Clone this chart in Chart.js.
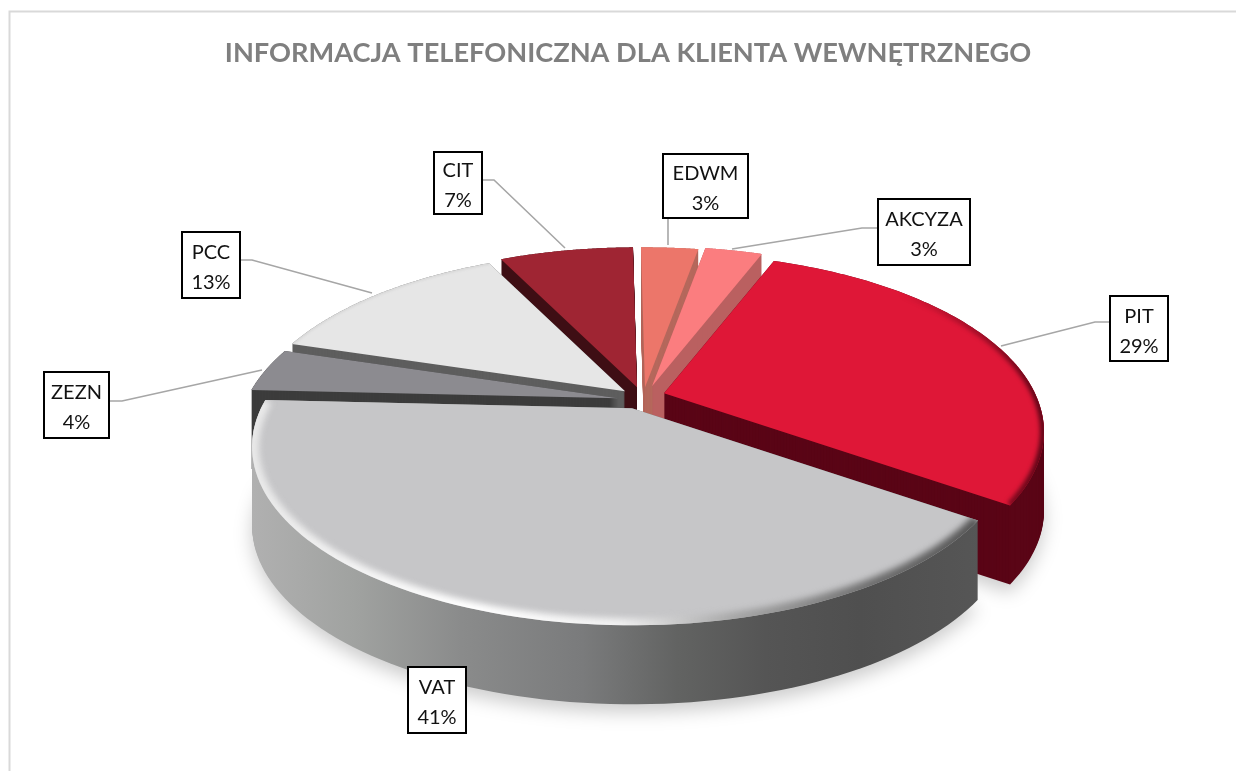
<!DOCTYPE html>
<html><head><meta charset="utf-8">
<style>html,body{margin:0;padding:0;background:#fff}canvas{display:block}#w{width:1236px;height:771px;position:relative}</style>
<script src="https://cdn.jsdelivr.net/npm/chart.js@4"></script>
</head><body><div id="w"><canvas id="c" width="1236" height="771"></canvas></div>
<script>
const titleText = 'INFORMACJA TELEFONICZNA DLA KLIENTA WEWNĘTRZNEGO';
const categories = ['EDWM','AKCYZA','PIT','VAT','ZEZN','PCC','CIT'];
const shares = [3,3,29,41,4,13,7];
const topColors = ['#ec766a','#fb7d7f','#df1737','#c6c6c8','#8c8b90','#e6e6e6','#9f2533'];
const wallColors = ['#b5685c','#ba6060','#5a0516',null,'#3c3c3c','#5e5e5e','#3e0e14'];
// pie sits 12px right of the title axis; then the explode shift of every slice, px
const pieDx = 12;
const shiftX = [5,12,24,-8,-22,-15,-3];
const shiftY = [-6,-7,0,15,5,-2,-6];
const wallOrder = [6,0,1,5,4,2,3];
// callouts: box left, top, right, bottom, then leader polyline
const callouts = {
  EDWM:{box:[663,154,748,218],line:[[668,218],[668,245]]},
  AKCYZA:{box:[878,199,970,265],line:[[878,228],[862,228],[732,249]]},
  PIT:{box:[1110,296,1168,361],line:[[1110,322],[1095,322],[1001,346]]},
  VAT:{box:[408,667,466,733],line:[]},
  ZEZN:{box:[44,372,109,438],line:[[109,401],[122,401],[262,370]]},
  PCC:{box:[182,232,240,298],line:[[240,260],[252,260],[372,293]]},
  CIT:{box:[434,152,482,214],line:[[482,180],[494,180],[565,248]]}
};
const P = 0.2157, SQUASH = 0.4587, DEPTH = 79;

function project(el, i, a, r){
  const u = Math.cos(a), v = -Math.sin(a), w = 1 + P*v*r;
  return [el.x + pieDx + shiftX[i] + el.outerRadius*r*u/w,
          el.y + shiftY[i] - el.outerRadius*SQUASH*r*v/w];
}
function slicePath(ctx, el, i, dy){
  const n = 90, s = el.startAngle, e = el.endAngle;
  ctx.beginPath();
  const c = project(el,i,0,0); ctx.moveTo(c[0],c[1]+dy);
  for(let k=0;k<=n;k++){const p=project(el,i,s+(e-s)*k/n,1);ctx.lineTo(p[0],p[1]+dy);}
  ctx.closePath();
}
function rimPath(ctx, el, i){
  const n = 90, s = el.startAngle, e = el.endAngle;
  ctx.beginPath();
  for(let k=0;k<=n;k++){const p=project(el,i,s+(e-s)*k/n,1);k?ctx.lineTo(p[0],p[1]):ctx.moveTo(p[0],p[1]);}
}
const pie3d = {
  id:'pie3d',
  beforeDraw(chart){
    const ctx = chart.ctx;
    ctx.save();
    ctx.strokeStyle='#d9d9d9';ctx.lineWidth=2;
    ctx.beginPath();ctx.moveTo(9.5,790);ctx.lineTo(9.5,11.5);ctx.lineTo(1240,11.5);ctx.stroke();
    ctx.restore();
  },
  beforeDatasetDraw(chart){
    const ctx = chart.ctx, arcs = chart.getDatasetMeta(0).data;
    // soft ground shadow
    ctx.save();
    ctx.filter='blur(9px)';ctx.fillStyle='rgba(0,0,0,0.2)';
    [3,2].forEach(i=>{slicePath(ctx,arcs[i],i,DEPTH+8);ctx.fill();});
    ctx.restore();
    // walls, back to front
    const vg = ctx.createLinearGradient(253,0,985,0);
    [[0,'#b0b0b0'],[0.14,'#a0a2a0'],[0.285,'#8a8b8b'],[0.45,'#7a7b7c'],[0.58,'#626362'],[0.7,'#555555'],[0.83,'#4f4f4f'],[1,'#565656']]
      .forEach(s=>vg.addColorStop(s[0],s[1]));
    wallOrder.forEach(i=>{
      ctx.fillStyle = wallColors[i] || vg;
      for(let d=DEPTH;d>=0;d-=1){slicePath(ctx,arcs[i],i,d);ctx.fill();}
    });
    // top faces
    arcs.forEach((el,i)=>{
      ctx.fillStyle = el.options.backgroundColor;
      slicePath(ctx,el,i,0);ctx.fill();
    });
    // bevels on the rims
    const rim = ctx.createLinearGradient(253,0,985,0);
    [[0,'rgba(232,232,232,1)'],[0.3,'rgba(255,255,255,1)'],[0.5,'rgba(245,245,245,0.9)'],[0.66,'rgba(160,160,160,0.85)'],[0.85,'rgba(100,100,100,0.9)'],[1,'rgba(85,85,85,1)']]
      .forEach(s=>rim.addColorStop(s[0],s[1]));
    const pitRim = ctx.createLinearGradient(900,0,1040,0);
    pitRim.addColorStop(0,'rgba(90,5,22,0)');pitRim.addColorStop(0.6,'rgba(90,5,22,0.5)');pitRim.addColorStop(1,'rgba(90,5,22,0.95)');
    const bevel = (i,style,w,blur)=>{
      ctx.save();slicePath(ctx,arcs[i],i,0);ctx.clip();
      ctx.filter=`blur(${blur}px)`;ctx.strokeStyle=style;ctx.lineWidth=w;
      rimPath(ctx,arcs[i],i);ctx.stroke();ctx.restore();
    };
    bevel(3,rim,14,3);
    bevel(2,pitRim,8,2);
    bevel(5,'rgba(200,200,200,0.5)',3,1);
    return false;
  },
  afterDatasetsDraw(chart){
    const ctx = chart.ctx, ds = chart.data;
    ctx.save();
    ctx.textAlign='center';ctx.textBaseline='middle';
    ctx.font='20px Lato';
    ds.labels.forEach((name,i)=>{
      const c = callouts[name], b = c.box;
      if(c.line.length){
        ctx.strokeStyle='#a6a6a6';ctx.lineWidth=1.6;ctx.beginPath();
        c.line.forEach((p,k)=>k?ctx.lineTo(p[0],p[1]):ctx.moveTo(p[0],p[1]));ctx.stroke();
      }
      ctx.fillStyle='#fff';ctx.fillRect(b[0],b[1],b[2]-b[0],b[3]-b[1]);
      ctx.strokeStyle='#000';ctx.lineWidth=2;ctx.strokeRect(b[0],b[1],b[2]-b[0],b[3]-b[1]);
      ctx.fillStyle='#111';
      const cx=(b[0]+b[2])/2, cy=(b[1]+b[3])/2;
      ctx.fillText(name,cx,cy-12);
      ctx.fillText(ds.datasets[0].data[i]+'%',cx,cy+18);
    });
    ctx.restore();
  }
};
new Chart(document.getElementById('c'),{
  type:'pie',
  data:{labels:categories,datasets:[{data:shares,backgroundColor:topColors,borderWidth:0}]},
  options:{
    responsive:false,animation:false,rotation:-0.75,radius:371,
    layout:{padding:{left:20,top:0,right:0,bottom:54}},
    events:[],
    plugins:{
      legend:{display:false},tooltip:{enabled:false},
      title:{display:true,text:titleText,color:'#7f7f7f',font:{family:'Lato',size:27.2,weight:'bold',lineHeight:1.2},padding:{top:37,bottom:0}}
    }
  },
  plugins:[pie3d]
});
</script></body></html>
